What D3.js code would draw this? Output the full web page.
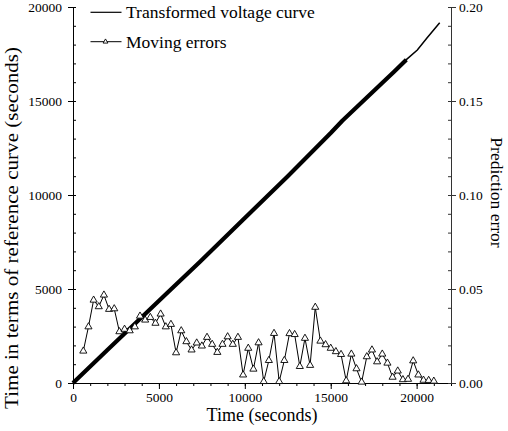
<!DOCTYPE html>
<html><head><meta charset="utf-8">
<script src="https://cdn.jsdelivr.net/npm/d3@7/dist/d3.min.js"></script>
<style>
html,body{margin:0;padding:0;background:#fff;}
svg{display:block;font-family:"Liberation Serif","Times New Roman",serif;}
</style></head>
<body><svg id="chart" width="508" height="431"></svg>
<script>
// ---- data ----
const curveTime = [0, 2000, 5355, 7392, 10000, 12500, 15000, 15675, 17870, 18685, 19400, 20040, 20600, 21342];
const curveRef  = [0, 1750, 4681, 6452, 8780, 11000, 13300, 13950, 15851, 16559, 17200, 17713, 18350, 19165];
const errorTime = d3.range(69).map(i => 600 + i * 300); // sample times every 300 s, 600..21000
const errorValues = [
  0.0170, 0.0299, 0.0441, 0.0406, 0.0468, 0.0392, 0.0395, 0.0273, 0.0286, 0.0278,
  0.0299, 0.0356, 0.0335, 0.0349, 0.0318, 0.0367, 0.0299, 0.0312, 0.0161, 0.0278,
  0.0220, 0.0176, 0.0213, 0.0197, 0.0243, 0.0206, 0.0163, 0.0206, 0.0246, 0.0206,
  0.0243, 0.0043, 0.0185, 0.0074, 0.0214, 0.0008, 0.0120, 0.0264, 0.0008, 0.0120,
  0.0263, 0.0258, 0.0088, 0.0238, 0.0094, 0.0403, 0.0223, 0.0204, 0.0185, 0.0167,
  0.0152, 0.0012, 0.0154, 0.0076, 0.0005, 0.0140, 0.0176, 0.0113, 0.0154, 0.0106,
  0.0031, 0.0064, 0.0018, 0.0020, 0.0118, 0.0043, 0.0015, 0.0014, 0.0010
];
const xMajorTicks = [0, 5000, 10000, 15000, 20000];
const yLeftMajorTicks = [0, 5000, 10000, 15000, 20000];
const yRightMajorTicks = [0, 0.05, 0.10, 0.15, 0.20];
const legendLabels = ["Transformed voltage curve", "Moving errors"];
const xTitle = "Time (seconds)";
const yLeftTitle = "Time in terms of reference curve (seconds)";
const yRightTitle = "Prediction error";

// ---- scales ----
const svg = d3.select("#chart");
const x = d3.scaleLinear().domain([0, 22000]).range([73, 451]);
const yL = d3.scaleLinear().domain([0, 20000]).range([383, 7]);
const yR = d3.scaleLinear().domain([0, 0.2]).range([383, 7]);

const tickFont = "13.5px";

// bottom axis: minor ticks
const xMinor = d3.range(0, 22001, 1000);
svg.append("g").attr("transform", "translate(0,383)")
  .call(d3.axisBottom(x).tickValues(xMinor).tickSize(3).tickFormat(""))
  .call(g => g.select(".domain").remove());
svg.append("g").attr("transform", "translate(0,383)")
  .call(d3.axisBottom(x).tickValues(xMajorTicks).tickSize(6).tickSizeOuter(0).tickPadding(3).tickFormat(d3.format("d")))
  .call(g => { g.select(".domain").attr("d", `M${x(0)},0.5H${x(22000)}`); g.selectAll("text").attr("font-size", tickFont).attr("font-family", "Liberation Serif").attr("fill", "#000"); });

// left axis
const yMinor = d3.range(0, 20001, 1000);
svg.append("g").attr("transform", "translate(73,0)")
  .call(d3.axisRight(yL).tickValues(yMinor).tickSize(3).tickFormat(""))
  .call(g => g.select(".domain").remove());
svg.append("g").attr("transform", "translate(73,0)")
  .call(d3.axisLeft(yL).tickValues(yLeftMajorTicks).tickSize(5).tickSizeOuter(0).tickPadding(6).tickFormat(d3.format("d")))
  .call(g => g.selectAll("text").attr("font-size", tickFont).attr("font-family", "Liberation Serif").attr("fill", "#000"));

// right axis
const rMinor = d3.range(0, 21).map(i => i / 100);
svg.append("g").attr("transform", "translate(451,0)")
  .call(d3.axisLeft(yR).tickValues(rMinor).tickSize(3).tickFormat(""))
  .call(g => { g.select(".domain").remove(); g.selectAll("line").attr("stroke", "#333"); });
svg.append("g").attr("transform", "translate(451,0)")
  .call(d3.axisRight(yR).tickValues(yRightMajorTicks).tickSize(5).tickSizeOuter(0).tickPadding(3).tickFormat(d3.format(".2f")))
  .call(g => { g.select(".domain").attr("stroke", "#333"); g.selectAll("line").attr("stroke", "#333");
               g.selectAll("text").attr("font-size", tickFont).attr("font-family", "Liberation Serif").attr("fill", "#000"); });

// ---- transformed voltage curve ----
const curvePts = curveTime.map((t, i) => [t, curveRef[i]]);
const lineL = d3.line().x(d => x(d[0])).y(d => yL(d[1]));
svg.append("path").datum(curvePts.filter(d => d[0] <= 19700 ))
  .attr("d", lineL).attr("fill", "none").attr("stroke", "#000").attr("stroke-width", 4.2).attr("stroke-linejoin", "round");
svg.append("path").datum(curvePts)
  .attr("d", lineL).attr("fill", "none").attr("stroke", "#000").attr("stroke-width", 1.5);

// ---- moving errors ----
const errPts = errorTime.map((t, i) => [t, errorValues[i]]);
const lineR = d3.line().x(d => x(d[0])).y(d => yR(d[1]));
svg.append("path").datum(errPts).attr("d", lineR).attr("fill", "none").attr("stroke", "#000").attr("stroke-width", 1);
const tri = d3.symbol().type(d3.symbolTriangle).size(22);
svg.append("g").selectAll("path").data(errPts).join("path")
  .attr("d", tri).attr("transform", d => `translate(${x(d[0])},${yR(d[1])})`)
  .attr("fill", "#fff").attr("stroke", "#000").attr("stroke-width", 0.9);

// ---- legend ----
const lg = svg.append("g");
lg.append("line").attr("x1", 90.5).attr("x2", 121.5).attr("y1", 12.3).attr("y2", 12.3).attr("stroke", "#000").attr("stroke-width", 1.2);
lg.append("text").attr("x", 126).attr("y", 18.3).attr("font-size", "17.5px").text(legendLabels[0]);
lg.append("line").attr("x1", 90.5).attr("x2", 121.5).attr("y1", 41.7).attr("y2", 41.7).attr("stroke", "#000").attr("stroke-width", 1);
lg.append("path").attr("d", d3.symbol().type(d3.symbolTriangle).size(10)).attr("transform", "translate(105.5,41.7)")
  .attr("fill", "#fff").attr("stroke", "#000").attr("stroke-width", 0.9);
lg.append("text").attr("x", 126).attr("y", 47.5).attr("font-size", "17.5px").text(legendLabels[1]);

// ---- titles ----
svg.append("text").attr("x", 262).attr("y", 421).attr("text-anchor", "middle").attr("font-size", "18px").text(xTitle);
svg.append("text").attr("transform", "translate(18,228) rotate(-90)").attr("text-anchor", "middle").attr("font-size", "18px")
  .attr("textLength", 362).attr("lengthAdjust", "spacingAndGlyphs").text(yLeftTitle);
svg.append("text").attr("transform", "translate(491,192.5) rotate(90)").attr("text-anchor", "middle").attr("font-size", "17.5px").text(yRightTitle);
</script></body></html>
